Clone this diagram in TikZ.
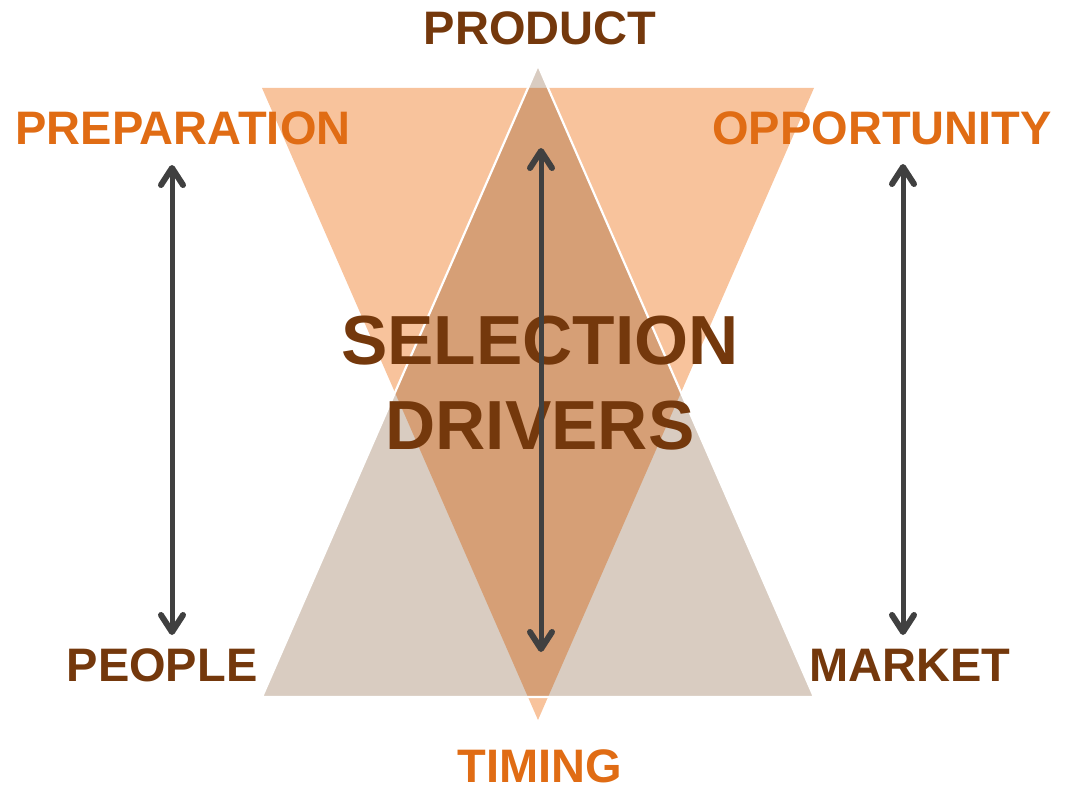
\documentclass[tikz,border=0pt]{standalone}
\usepackage{fontspec}
\setmainfont{Liberation Sans}
\usetikzlibrary{arrows.meta}
\definecolor{peach}{HTML}{F8C39C}
\definecolor{sand}{HTML}{D9CCC1}
\definecolor{clay}{HTML}{D69F76}
\definecolor{rust}{HTML}{E06C14}
\definecolor{umber}{HTML}{74380C}
\definecolor{ink}{HTML}{404040}

\begin{document}
\begin{tikzpicture}[
  x=1pt, y=-1pt,
  driver/.style={font=\fontsize{47}{50}\selectfont\bfseries, inner sep=0pt},
  warm/.style={driver, text=rust},
  deep/.style={driver, text=umber},
  center/.style={font=\fontsize{69.5}{85}\selectfont\bfseries, text=umber,
                 align=center, inner sep=0pt},
  barb/.tip={Straight Barb[length=17pt, width=22pt, line width=6pt, line cap=round, line join=round]},
  twoway/.style={line width=5pt, ink, barb-barb},
]

\useasboundingbox (0, 0) rectangle (1070, 789);

% triangle corners
\coordinate (downL) at (262, 88);
\coordinate (downR) at (814, 88);
\coordinate (downTip) at (538, 720);
\coordinate (upTip) at (538, 65);
\coordinate (upL) at (262, 697);
\coordinate (upR) at (814, 697);

\fill[peach] (downL) -- (downR) -- (downTip) -- cycle;
\fill[sand] (upTip) -- (upR) -- (upL) -- cycle;
\begin{scope}
  \clip (upTip) -- (upR) -- (upL) -- cycle;
  \fill[clay] (downL) -- (downR) -- (downTip) -- cycle;
\end{scope}
\draw[white, line width=2.2pt, line join=miter] (upTip) -- (upR) -- (upL) -- cycle;

% labels
\node[deep] (product) at (540, 28) {PRODUCT};
\node[warm] (preparation) at (183, 128) {PREPARATION};
\node[warm] (opportunity) at (882, 128) {OPPORTUNITY};
\node[deep] (people) at (162, 665) {PEOPLE};
\node[deep] (market) at (910, 665) {MARKET};
\node[warm] (timing) at (540, 766) {TIMING};
\node[center] (drivers) at (540, 383) {SELECTION\\DRIVERS};

% double arrows
\coordinate (leftTop) at (172, 165);
\coordinate (leftBot) at (172, 635);
\coordinate (midTop) at (541, 148);
\coordinate (midBot) at (541, 652);
\coordinate (rightTop) at (903, 164);
\coordinate (rightBot) at (903, 635);

\draw[twoway] (leftTop) -- (leftBot);
\draw[twoway] (midTop) -- (midBot);
\draw[twoway] (rightTop) -- (rightBot);

\end{tikzpicture}
\end{document}
